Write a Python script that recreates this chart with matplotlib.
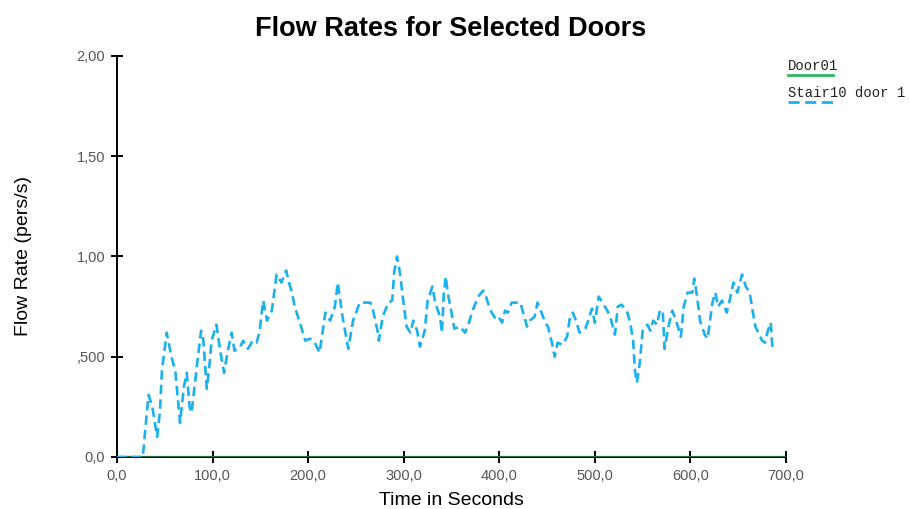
import matplotlib
matplotlib.use("Agg")
import matplotlib.pyplot as plt
from matplotlib.lines import Line2D
from matplotlib.ticker import FixedLocator, FixedFormatter

# Time (s) and measured flow rate (pers/s) through Stair10 door 1
stair_time = [0, 27, 33, 37, 42, 45, 47, 52, 57, 61, 66, 70, 73, 76, 78, 84, 88, 90,
              94, 97, 99, 104, 108, 112, 116, 120, 123, 129, 132, 137, 142, 146, 149,
              153, 157, 162, 167, 172, 177, 180, 183, 186, 192, 197, 202, 207, 212,
              218, 223, 228, 231, 236, 242, 247, 254, 260, 265, 268, 273, 274, 278,
              284, 288, 290, 293, 296, 299, 303, 307, 310, 314, 317, 322, 325, 330,
              333, 338, 340, 342, 344, 346, 350, 353, 359, 364, 367, 372, 378, 383,
              385, 388, 392, 396, 399, 403, 406, 409, 413, 418, 422, 425, 429, 432,
              437, 440, 445, 448, 451, 455, 458, 461, 466, 471, 474, 477, 481, 484,
              490, 493, 497, 500, 504, 508, 513, 516, 521, 524, 528, 534, 537, 540,
              542, 544, 547, 550, 555, 558, 561, 565, 568, 571, 573, 577, 581, 585,
              590, 593, 597, 602, 604, 607, 610, 615, 618, 623, 626, 629, 633, 638,
              641, 645, 649, 654, 658, 662, 665, 668, 671, 675, 678, 681, 684, 686]
stair_rate = [0.0, 0.0, 0.31, 0.25, 0.10, 0.23, 0.43, 0.62, 0.50, 0.43, 0.17, 0.35, 0.42,
              0.25, 0.22, 0.47, 0.63, 0.60, 0.34, 0.47, 0.58, 0.66, 0.53, 0.42, 0.53,
              0.62, 0.53, 0.55, 0.58, 0.54, 0.58, 0.57, 0.62, 0.78, 0.68, 0.73, 0.91,
              0.87, 0.93, 0.87, 0.82, 0.75, 0.66, 0.58, 0.59, 0.57, 0.52, 0.72, 0.68,
              0.75, 0.87, 0.70, 0.54, 0.68, 0.77, 0.77, 0.77, 0.73, 0.62, 0.58, 0.70,
              0.77, 0.78, 0.92, 1.00, 0.92, 0.80, 0.65, 0.62, 0.68, 0.63, 0.55, 0.63,
              0.78, 0.85, 0.77, 0.70, 0.62, 0.82, 0.90, 0.82, 0.72, 0.64, 0.65, 0.62,
              0.65, 0.73, 0.80, 0.83, 0.82, 0.77, 0.72, 0.69, 0.70, 0.67, 0.73, 0.72,
              0.77, 0.77, 0.77, 0.72, 0.65, 0.68, 0.70, 0.77, 0.71, 0.67, 0.65, 0.57,
              0.50, 0.57, 0.56, 0.60, 0.70, 0.72, 0.67, 0.62, 0.64, 0.68, 0.74, 0.67,
              0.80, 0.77, 0.73, 0.70, 0.61, 0.75, 0.76, 0.72, 0.67, 0.58, 0.43, 0.37,
              0.47, 0.63, 0.66, 0.63, 0.68, 0.66, 0.73, 0.73, 0.54, 0.65, 0.73, 0.68,
              0.60, 0.75, 0.82, 0.82, 0.89, 0.80, 0.68, 0.61, 0.59, 0.77, 0.82, 0.75,
              0.78, 0.72, 0.78, 0.87, 0.82, 0.91, 0.85, 0.82, 0.73, 0.65, 0.62, 0.58,
              0.57, 0.63, 0.67, 0.53]

# Door01 carries no flow over the whole run
door01_time = [0, 700]
door01_rate = [0.0, 0.0]

x_ticks = [0, 100, 200, 300, 400, 500, 600, 700]
x_labels = ["0,0", "100,0", "200,0", "300,0", "400,0", "500,0", "600,0", "700,0"]
y_ticks = [0.0, 0.5, 1.0, 1.5, 2.0]
y_labels = ["0,0", ",500", "1,00", "1,50", "2,00"]

series_names = ["Door01", "Stair10 door 1"]
green = "#2FB55E"
blue = "#1CB0EC"

plt.rcParams["font.family"] = ["Liberation Sans", "DejaVu Sans"]

fig = plt.figure(figsize=(9.09, 5.09), dpi=100)
ax = fig.add_axes([0.1287, 0.1022, 0.7360, 0.7878])

ax.plot(door01_time, door01_rate, color="#1F6E4A", lw=1.6, solid_capstyle="butt", zorder=3)
ax.plot(stair_time, stair_rate, color=blue, lw=1.9,
        linestyle=(0, (3.6, 1.9)), zorder=4)

ax.set_xlim(0, 700)
ax.set_ylim(0, 2.0)
for side in ("top", "right"):
    ax.spines[side].set_visible(False)
for side in ("left", "bottom"):
    ax.spines[side].set_color("black")
    ax.spines[side].set_linewidth(1.4)

ax.xaxis.set_major_locator(FixedLocator(x_ticks))
ax.xaxis.set_major_formatter(FixedFormatter(x_labels))
ax.yaxis.set_major_locator(FixedLocator(y_ticks))
ax.yaxis.set_major_formatter(FixedFormatter(y_labels))
ax.tick_params(axis="both", direction="inout", length=9, width=1.4, color="black",
               labelsize=10.5, labelcolor="#555555", pad=4)
for lbl in ax.get_xticklabels() + ax.get_yticklabels():
    lbl.set_clip_on(False)

ax.set_xlabel("Time in Seconds", fontsize=14, color="black")
ax.xaxis.set_label_coords(0.5, -0.088)
ax.set_ylabel("Flow Rate (pers/s)", fontsize=14, color="black")
ax.yaxis.set_label_coords(-0.127, 0.5)
fig.text(0.496, 0.944, "Flow Rates for Selected Doors", fontsize=19.5,
         fontweight="bold", ha="center", va="center")

# Legend entries: name in a typewriter face with a short sample line beneath
legend_colors = [green, blue]
legend_styles = ["-", (0, (4.0, 2.0))]
legend_y = [0.870, 0.817]
for name, col, ls, yy in zip(series_names, legend_colors, legend_styles, legend_y):
    fig.text(0.867, yy, name, family=["Liberation Mono", "DejaVu Sans Mono"],
             fontsize=10, color="#222222", va="center", ha="left")
    fig.add_artist(Line2D([0.867, 0.916], [yy - 0.018, yy - 0.018],
                          transform=fig.transFigure, color=col, lw=2.0,
                          linestyle=ls))

fig.savefig("out.png", dpi=100)
